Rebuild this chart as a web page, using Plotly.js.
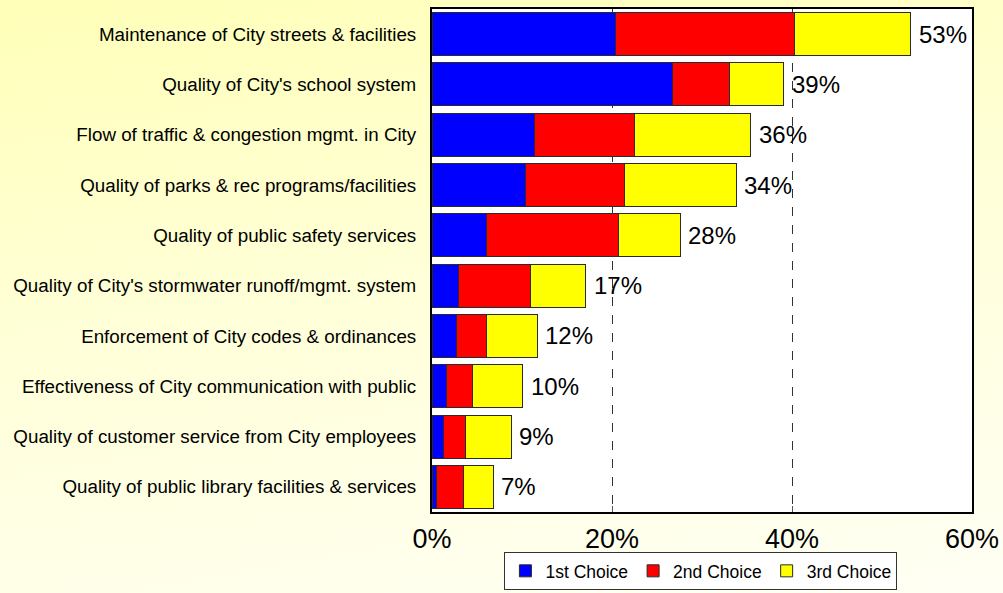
<!DOCTYPE html>
<html>
<head>
<meta charset="utf-8">
<script src="https://cdn.plot.ly/plotly-3.0.1.min.js"></script>
<style>
  html, body { margin: 0; padding: 0; }
  #chart {
    width: 1003px; height: 593px;
    background: linear-gradient(170deg, #FFFFB8 0%, #FFFFD8 45%, #FFFFF4 100%);
  }
</style>
</head>
<body>
<div id="chart"></div>
<script>
const categories = [
  "Maintenance of City streets & facilities",
  "Quality of City's school system",
  "Flow of traffic & congestion mgmt. in City",
  "Quality of parks & rec programs/facilities",
  "Quality of public safety services",
  "Quality of City's stormwater runoff/mgmt. system",
  "Enforcement of City codes & ordinances",
  "Effectiveness of City communication with public",
  "Quality of customer service from City employees",
  "Quality of public library facilities & services"
];
const firstChoice  = [20.4, 26.7, 11.4, 10.4, 6.1, 2.9, 2.7, 1.6, 1.3, 0.5];
const secondChoice = [19.9, 6.4, 11.1, 11.0, 14.6, 8.0, 3.3, 2.9, 2.4, 3.0];
const thirdChoice  = [12.9, 6.0, 12.9, 12.4, 6.9, 6.2, 5.7, 5.6, 5.1, 3.3];
const totalLabels  = ["53%", "39%", "36%", "34%", "28%", "17%", "12%", "10%", "9%", "7%"];
const seriesNames  = ["1st Choice", "2nd Choice", "3rd Choice"];
const xTickVals    = [0, 20, 40, 60];
const xTickText    = ["0%", "20%", "40%", "60%"];

const totals = categories.map((c, i) => firstChoice[i] + secondChoice[i] + thirdChoice[i]);
const FONT = "Liberation Sans, Arial, sans-serif";
const barLine = {color: "#2a2a2a", width: 1};

const traces = [
  {type: "bar", orientation: "h", name: seriesNames[0], y: categories, x: firstChoice,
   marker: {color: "#0000FF", line: barLine}, hoverinfo: "skip"},
  {type: "bar", orientation: "h", name: seriesNames[1], y: categories, x: secondChoice,
   marker: {color: "#FF0000", line: barLine}, hoverinfo: "skip"},
  {type: "bar", orientation: "h", name: seriesNames[2], y: categories, x: thirdChoice,
   marker: {color: "#FFFF00", line: barLine}, hoverinfo: "skip"}
];

const annotations = categories.map((c, i) => ({
  x: totals[i], y: c, xref: "x", yref: "y",
  text: totalLabels[i], showarrow: false,
  xanchor: "left", yanchor: "middle", xshift: 6,
  font: {family: FONT, size: 24, color: "#000"}
}));

const layout = {
  width: 1003, height: 593,
  margin: {l: 432, r: 31, t: 9, b: 81, pad: 0, autoexpand: false},
  paper_bgcolor: "rgba(0,0,0,0)",
  plot_bgcolor: "#FFFFFF",
  barmode: "stack",
  bargap: 0.145,
  font: {family: FONT, color: "#000"},
  annotations: annotations,
  xaxis: {
    range: [0, 60], tickvals: xTickVals, ticktext: xTickText,
    tickfont: {family: FONT, size: 27, color: "#000"},
    ticks: "inside", ticklen: 6, tickcolor: "#555", tickwidth: 1,
    showgrid: true, gridcolor: "#333", griddash: "dash", gridwidth: 1,
    zeroline: false, showline: true, linecolor: "#000", linewidth: 2, mirror: true,
    ticklabelstandoff: 2, fixedrange: true, automargin: false
  },
  yaxis: {
    type: "category", autorange: "reversed",
    tickfont: {family: FONT, size: 18.8, color: "#000"},
    ticks: "", showgrid: false, zeroline: false,
    showline: true, linecolor: "#000", linewidth: 2, mirror: true,
    ticklabelstandoff: 10, fixedrange: true, automargin: false
  },
  legend: {
    orientation: "h", x: 0.498, xanchor: "center", y: -0.155, yanchor: "bottom",
    bgcolor: "#FFFFFF", bordercolor: "#333", borderwidth: 1,
    font: {family: FONT, size: 17.5, color: "#000"},
    traceorder: "normal", itemwidth: 30
  },
  showlegend: true
};

Plotly.newPlot("chart", traces, layout, {displayModeBar: false, staticPlot: true});
</script>
</body>
</html>
